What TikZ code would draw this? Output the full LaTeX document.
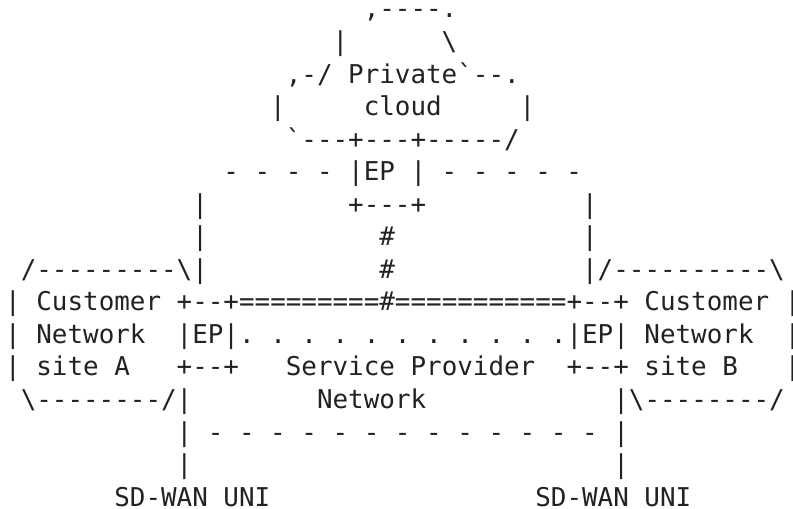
\documentclass[tikz,border=0pt]{standalone}
\usepackage{fontspec}
\setmonofont{DejaVu Sans Mono}
\definecolor{ink}{HTML}{222222}
\newcommand\spc[1]{\hskip#1\fontcharwd\font`M\relax}
\newcommand\bs{\textbackslash}
\tikzset{
  asciiline/.style={anchor=base west, inner sep=0pt, outer sep=0pt, text=ink,
    font=\ttfamily\fontsize{25.9}{32.55}\selectfont}
}
\newcommand\putline[4]{\node[asciiline] (#1) at ({5.2pt+15.59pt*#3},{-17.9pt-32.55pt*#2}) {#4};}
\begin{document}
\begin{tikzpicture}
\useasboundingbox (0pt,0pt) rectangle (793pt,-509pt);
\putline{l0}{0}{23}{,----.}
\putline{l1}{1}{21}{|\spc{6}\bs}
\putline{l2}{2}{18}{,-/\spc{1}Private`--.}
\putline{l3}{3}{17}{|\spc{5}cloud\spc{5}|}
\putline{l4}{4}{18}{`---+---+-----/}
\putline{l5}{5}{14}{-\spc{1}-\spc{1}-\spc{1}-\spc{1}|EP\spc{1}|\spc{1}-\spc{1}-\spc{1}-\spc{1}-\spc{1}-}
\putline{l6}{6}{12}{|\spc{9}+---+\spc{10}|}
\putline{l7}{7}{12}{|\spc{11}\#\spc{12}|}
\putline{l8}{8}{1}{/---------\bs|\spc{11}\#\spc{12}|/----------\bs}
\putline{l9}{9}{0}{|\spc{1}Customer\spc{1}+--+=========\#===========+--+\spc{1}Customer\spc{1}|}
\putline{l10}{10}{0}{|\spc{1}Network\spc{2}|EP|.\spc{1}.\spc{1}.\spc{1}.\spc{1}.\spc{1}.\spc{1}.\spc{1}.\spc{1}.\spc{1}.\spc{1}.|EP|\spc{1}Network\spc{2}|}
\putline{l11}{11}{0}{|\spc{1}site\spc{1}A\spc{3}+--+\spc{3}Service\spc{1}Provider\spc{2}+--+\spc{1}site\spc{1}B\spc{3}|}
\putline{l12}{12}{1}{\bs--------/|\spc{8}Network\spc{12}|\bs--------/}
\putline{l13}{13}{11}{|\spc{1}-\spc{1}-\spc{1}-\spc{1}-\spc{1}-\spc{1}-\spc{1}-\spc{1}-\spc{1}-\spc{1}-\spc{1}-\spc{1}-\spc{1}-\spc{1}|}
\putline{l14}{14}{11}{|\spc{27}|}
\putline{l15}{15}{7}{SD-WAN\spc{1}UNI\spc{17}SD-WAN\spc{1}UNI}
\end{tikzpicture}
\end{document}
